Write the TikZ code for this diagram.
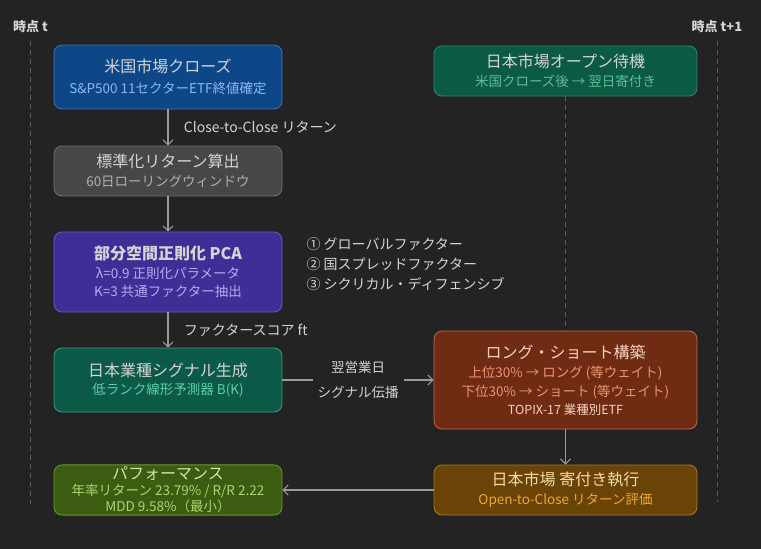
\documentclass[tikz,border=0pt]{standalone}
\usepackage{fontspec}
\setmainfont{Noto Sans CJK JP}
\usetikzlibrary{arrows.meta,positioning}

\definecolor{achter}{HTML}{232323}
\definecolor{pijlgrijs}{HTML}{9A9A9A}
\definecolor{streep}{HTML}{5C5C5C}
\definecolor{tekstgrijs}{HTML}{D4D4D4}
% vulling / rand / ondertitel per blok
\definecolor{usvul}{HTML}{0E4787}\definecolor{usrand}{HTML}{3C72BA}\definecolor{ussub}{HTML}{8DB8EE}
\definecolor{jpvul}{HTML}{0B5A44}\definecolor{jprand}{HTML}{2F8A6D}\definecolor{jpsub}{HTML}{5DBF98}
\definecolor{stdvul}{HTML}{474747}\definecolor{stdrand}{HTML}{707070}\definecolor{stdsub}{HTML}{B0B0B0}
\definecolor{pcavul}{HTML}{3E2F97}\definecolor{pcarand}{HTML}{6A5AC6}\definecolor{pcasub}{HTML}{B4ABF2}
\definecolor{sigvul}{HTML}{0B5A48}\definecolor{sigrand}{HTML}{3A9A80}\definecolor{sigsub}{HTML}{5CCFA8}
\definecolor{lsvul}{HTML}{702B13}\definecolor{lsrand}{HTML}{BD6A4A}\definecolor{lssub}{HTML}{EC9472}\definecolor{lstitel}{HTML}{F5D3C3}
\definecolor{exvul}{HTML}{6A4307}\definecolor{exrand}{HTML}{AD7A22}\definecolor{exsub}{HTML}{F0A830}\definecolor{extitel}{HTML}{F5DCA0}
\definecolor{pfvul}{HTML}{3B5C11}\definecolor{pfrand}{HTML}{6A9A30}\definecolor{pfsub}{HTML}{A8D870}\definecolor{pftitel}{HTML}{CDE8A8}

\newcommand{\kop}[1]{{\fontsize{16}{20}\selectfont #1}}

\begin{document}
\begin{tikzpicture}[x=1pt,y=-1pt,
    blok/.style={rounded corners=8pt, line width=0.8pt, align=center, inner sep=2pt,
                 minimum width=228pt, text=tekstgrijs, font=\fontsize{13.5}{18.5}\selectfont},
    breedblok/.style={blok, minimum width=263pt},
    pijl/.style={draw=pijlgrijs, line width=1.1pt, -{Straight Barb[length=5pt,width=10pt]}},
    tijdlijn/.style={draw=streep, line width=0.8pt, dash pattern=on 5pt off 4pt},
    tijd/.style={text=tekstgrijs, font=\fontsize{13}{16}\selectfont\bfseries},
    bijschrift/.style={text=tekstgrijs, font=\fontsize{14}{16}\selectfont}]

    \fill[achter] (0,0) rectangle (761,549);
    \useasboundingbox (0,0) rectangle (761,549);

    % tijdlijnen
    \node[tijd] (t0) at (30.5,27) {時点 t};
    \node[tijd] (t1) at (717,27) {時点 t+1};
    \coordinate (t0eind) at (30.5,504);
    \coordinate (t1eind) at (717,502);
    \draw[tijdlijn] ([yshift=-4pt]t0.south) -- (t0eind);
    \draw[tijdlijn] ([yshift=-4pt]t1.south) -- (t1eind);

    % linker kolom
    \node[blok, fill=usvul, draw=usrand, minimum height=64pt] (us) at (168,77)
        {\kop{米国市場クローズ}\\[2pt]\textcolor{ussub}{S\&P500 11セクターETF終値確定}};
    \node[blok, fill=stdvul, draw=stdrand, minimum height=50pt] (std) at (168,171)
        {\kop{標準化リターン算出}\\\textcolor{stdsub}{60日ローリングウィンドウ}};
    \node[blok, fill=pcavul, draw=pcarand, minimum height=80pt] (pca) at (168,272)
        {\kop{\bfseries 部分空間正則化 PCA}\\\textcolor{pcasub}{λ=0.9 正則化パラメータ}\\\textcolor{pcasub}{K=3 共通ファクター抽出}};
    \node[blok, fill=sigvul, draw=sigrand, minimum height=64pt] (sig) at (168,380)
        {\kop{日本業種シグナル生成}\\\textcolor{sigsub}{低ランク線形予測器 B(K)}};
    \node[blok, fill=pfvul, draw=pfrand, minimum height=50pt, text=pftitel,
          font=\fontsize{13.5}{16}\selectfont] (perf) at (168,490)
        {\kop{パフォーマンス}\\\textcolor{pfsub}{年率リターン 23.79\% / R/R 2.22}\\\textcolor{pfsub}{MDD 9.58\%（最小）}};

    % rechter kolom
    \node[breedblok, fill=jpvul, draw=jprand, minimum height=50pt] (open) at (565.5,71)
        {\kop{日本市場オープン待機}\\\textcolor{jpsub}{米国クローズ後 → 翌日寄付き}};
    \node[breedblok, fill=lsvul, draw=lsrand, minimum height=98pt, text=lstitel] (ls) at (565.5,380)
        {\kop{ロング・ショート構築}\\[1pt]\textcolor{lssub}{上位30\% → ロング (等ウェイト)}\\\textcolor{lssub}{下位30\% → ショート (等ウェイト)}\\{\fontsize{12.5}{18.5}\selectfont TOPIX-17 業種別ETF}};
    \node[breedblok, fill=exvul, draw=exrand, minimum height=50pt, text=extitel] (exec) at (565.5,490)
        {\kop{日本市場 寄付き執行}\\\textcolor{exsub}{Open-to-Close リターン評価}};

    \node[bijschrift, anchor=west, align=left, font=\fontsize{14}{20}\selectfont] (factoren) at (303,264)
        {① グローバルファクター\\② 国スプレッドファクター\\③ シクリカル・ディフェンシブ};

    % verbindingen
    \draw[pijl] (us) -- node[bijschrift, right=12pt] {Close-to-Close リターン} (std);
    \draw[pijl] (std) -- (pca);
    \draw[pijl] (pca) -- node[bijschrift, right=12pt] {ファクタースコア ft} (sig);
    \draw[pijl] (sig) -- node[bijschrift, fill=achter, inner sep=5pt, align=center,
                              font=\fontsize{13.5}{25}\selectfont] {翌営業日\\シグナル伝播} (ls);
    \draw[pijl] (ls) -- (exec);
    \draw[pijl] (exec) -- (perf);
    \draw[tijdlijn] (open) -- (ls);
\end{tikzpicture}
\end{document}
